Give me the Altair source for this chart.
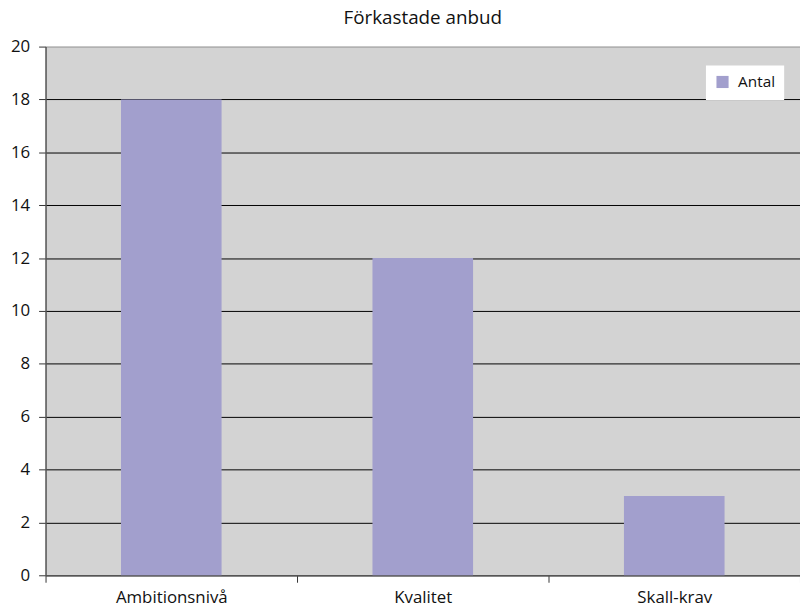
import altair as alt
import pandas as pd

# Rejected tenders by reason
categories = ["Ambitionsnivå", "Kvalitet", "Skall-krav"]
counts = [18, 12, 3]
series_name = "Antal"

df = pd.DataFrame({"kategori": categories, "antal": counts, "serie": series_name})

font = "Open Sans"

bars = alt.Chart(df).mark_bar(width=alt.RelativeBandSize(0.4)).encode(
    x=alt.X(
        "kategori:N",
        sort=categories,
        title=None,
        scale=alt.Scale(paddingInner=0, paddingOuter=0),
        axis=alt.Axis(
            labelAngle=0,
            labelFont=font,
            labelFontSize=17,
            labelColor="#111",
            labelPadding=7,
            tickBand="extent",
            tickSize=7,
            tickColor="#333",
            domainColor="#555",
            domainWidth=1.5,
        ),
    ),
    y=alt.Y(
        "antal:Q",
        title=None,
        scale=alt.Scale(domain=[0, 20]),
        axis=alt.Axis(
            values=list(range(0, 21, 2)),
            labelFont=font,
            labelFontSize=17,
            labelColor="#111",
            labelPadding=9,
            tickSize=7,
            tickColor="#333",
            domainColor="#555",
            domainWidth=1.5,
            grid=True,
            gridColor=alt.condition("datum.value == 20", alt.value("#999999"), alt.value("#000000")),
            gridWidth=1,
        ),
    ),
    fill=alt.Fill(
        "serie:N",
        scale=alt.Scale(range=["#A29FCD"]),
        legend=alt.Legend(
            title=None,
            orient="none",
            legendX=667,
            legendY=19,
            fillColor="white",
            padding=9,
            symbolType="square",
            symbolSize=150,
            symbolStrokeWidth=0,
            labelFont=font,
            labelFontSize=15.5,
            labelColor="#111",
            labelOffset=8,
        ),
    ),
)

chart = bars.properties(
    width=762,
    height=534,
    title=alt.TitleParams(
        "Förkastade anbud",
        font=font,
        fontSize=19,
        fontWeight="normal",
        color="#111",
        anchor="middle",
        offset=10,
    ),
    autosize=alt.AutoSizeParams(type="none"),
    padding={"left": 46, "top": 44, "right": 0, "bottom": 32},
    background="white",
).configure_view(
    fill="#D3D3D3",
    stroke=None,
)

chart.save("out.html", embed_options={"renderer": "svg", "actions": False})
